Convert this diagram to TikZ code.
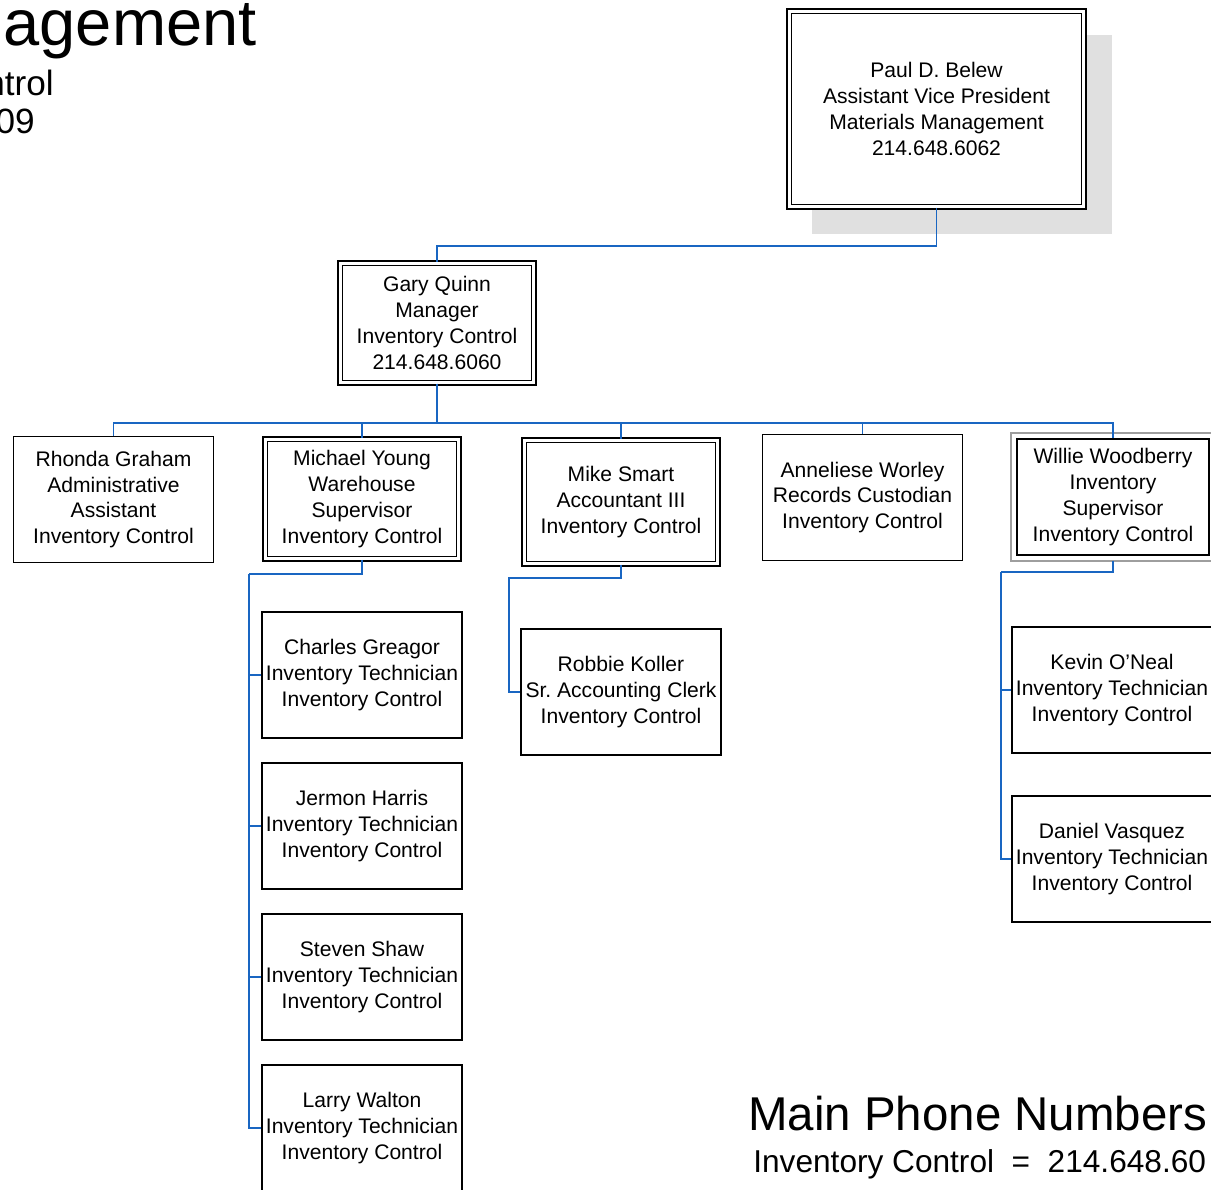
\documentclass[tikz,border=0pt]{standalone}
\usepackage{fontspec}
\setmainfont{Liberation Sans}
\usepackage{tikz}
\usetikzlibrary{positioning}
\usetikzlibrary{shadows}
\frenchspacing

\begin{document}
\begin{tikzpicture}[x=0.02cm,y=-0.02cm,
	box/.style={draw=black, line width=1pt, fill=white, inner sep=0pt, align=center,
		minimum width=4cm, minimum height=2.52cm, font=\fontsize{12}{14.7}\selectfont},
	dbox/.style={box, double, double distance=1.7pt, line width=0.9pt,
		minimum width=3.88cm, minimum height=2.4cm},
	link/.style={line width=1.1pt, color=qqwwbb},
	frag/.style={inner sep=0pt}]
	\definecolor{qqwwbb}{rgb}{0.1,0.4,0.76}
	\definecolor{eeeeee}{rgb}{0.88,0.88,0.88}
	\definecolor{aaaaaa}{rgb}{0.62,0.62,0.62}

	\clip (0,0) rectangle (1211,1190);

	\node[frag, anchor=base east, font=\fontsize{37}{40}\selectfont] (ttla) at (257,45) {agement};
	\node[frag, anchor=base east, font=\fontsize{20}{24}\selectfont] (ttlb) at (54,95) {ntrol};
	\node[frag, anchor=base east, font=\fontsize{20}{24}\selectfont] (ttlc) at (35,133) {09};

	\node[dbox, minimum width=5.9cm, minimum height=3.92cm,
		general shadow={shadow xshift=0.5cm, shadow yshift=-0.5cm, shadow scale=1.02, fill=eeeeee}]
		(paul) at (936.5,109) {Paul D. Belew\\Assistant Vice President\\Materials Management\\214.648.6062};
	\node[dbox] (gary) at (437,323) {Gary Quinn\\Manager\\Inventory Control\\214.648.6060};

	\node[box] (rhonda) at (113.5,499.5) {Rhonda Graham\\Administrative\\Assistant\\Inventory Control};
	\node[dbox] (michael) at (362,499) {Michael Young\\Warehouse\\Supervisor\\Inventory Control};
	\node[dbox, minimum height=2.48cm] (mike) at (621,502) {Mike Smart\\Accountant III\\Inventory Control};
	\node[box] (anneliese) at (862.5,497.5) {Anneliese Worley\\Records Custodian\\Inventory Control};
	\node[box, minimum width=3.84cm, minimum height=2.32cm] (willie) at (1113,497) {Willie Woodberry\\Inventory\\Supervisor\\Inventory Control};
	\draw[line width=1pt, color=aaaaaa] ([shift={(-0.1cm,0.1cm)}]willie.north west) rectangle ([shift={(0.1cm,-0.1cm)}]willie.south east);

	\node[box] (charles) at (362,675) {Charles Greagor\\Inventory Technician\\Inventory Control};
	\node[box] (jermon) at (362,826) {Jermon Harris\\Inventory Technician\\Inventory Control};
	\node[box] (steven) at (362,977) {Steven Shaw\\Inventory Technician\\Inventory Control};
	\node[box] (larry) at (362,1128) {Larry Walton\\Inventory Technician\\Inventory Control};

	\node[box] (robbie) at (621,692) {Robbie Koller\\Sr. Accounting Clerk\\Inventory Control};

	\node[box] (kevin) at (1112,690) {Kevin O’Neal\\Inventory Technician\\Inventory Control};
	\node[box] (daniel) at (1112,859) {Daniel Vasquez\\Inventory Technician\\Inventory Control};

	\coordinate (pbus) at (936.5,246);
	\coordinate (gbus) at (437,423);
	\coordinate (mbus) at (249,574);
	\coordinate (abus) at (509,578);
	\coordinate (wbus) at (1001,572);

	\draw[link] (paul.south) -- (pbus) -| (gary.north);
	\foreach \n in {rhonda,michael,mike,anneliese,willie}
		\draw[link] (gary.south) -- (gbus) -| (\n.north);
	\draw[link] (michael.south) |- (mbus);
	\foreach \n in {charles,jermon,steven,larry}
		\draw[link] (mbus) |- (\n.west);
	\draw[link] (mike.south) |- (abus) |- (robbie.west);
	\draw[link] ([yshift=-0.1cm]willie.south) |- (wbus);
	\foreach \n in {kevin,daniel}
		\draw[link] (wbus) |- (\n.west);

	\node[frag, anchor=base west, font=\fontsize{27}{30}\selectfont] (phones) at (748,1130) {Main Phone Numbers};
	\node[frag, anchor=base west, font=\fontsize{18}{22}\selectfont] (invphone) at (753,1172) {Inventory Control\hspace{10pt}=\hspace{10pt}214.648.60};
\end{tikzpicture}
\end{document}
